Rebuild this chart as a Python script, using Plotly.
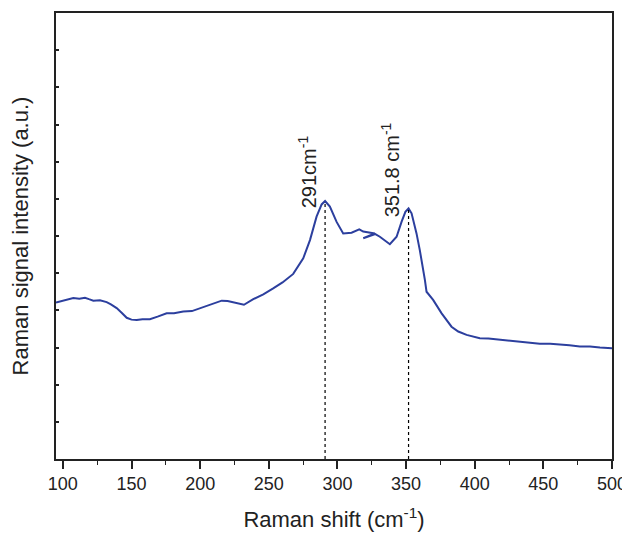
import plotly.graph_objects as go

# Raman spectrum (arbitrary units)
shift = [95, 101, 107.6, 112, 116.1, 119, 122.2, 127, 131.9, 135, 139.2, 143, 146.5, 150, 153.8,
         158, 163.4, 169, 175.6, 181, 187.7, 194, 199.9, 205, 209.5, 215.7, 220, 224.1, 228,
         231.9, 238.7, 246, 253.2, 260, 267.8,
         275.1, 280, 284.8, 288.5, 291, 294.5, 299.4, 304.2, 310.3, 315.9,
         318.8, 327.3, 318.8, 327.6, 330.9, 338.2, 343.1, 346.7, 349.5, 351.8,
         354, 357.6, 360, 363.7, 364.9, 369.7, 375.9, 383.1, 388, 394.1,
         403.7, 410, 418.3, 425, 432.9, 440, 447.4, 455, 462, 469, 476.6, 484, 491.2, 500]
intensity = [4.21, 4.27, 4.33, 4.31, 4.34, 4.30, 4.26, 4.27, 4.22, 4.16, 4.06, 3.93, 3.80, 3.75, 3.74,
             3.76, 3.76, 3.83, 3.92, 3.92, 3.97, 3.98, 4.06, 4.12, 4.19, 4.26, 4.25, 4.22, 4.18,
             4.15, 4.30, 4.43, 4.59, 4.75, 4.98,
             5.40, 5.89, 6.52, 6.85, 6.94, 6.79, 6.38, 6.07, 6.09, 6.18,
             6.12, 6.07, 5.94, 6.05, 5.98, 5.78, 5.98, 6.38, 6.65, 6.74,
             6.61, 6.07, 5.62, 4.82, 4.50, 4.28, 3.92, 3.56, 3.43, 3.34,
             3.25, 3.24, 3.21, 3.19, 3.16, 3.14, 3.10, 3.10, 3.07, 3.06, 3.03, 3.03, 3.00, 2.98]

peak_pos = [291, 351.8]
peak_int = [6.94, 6.74]
peak_labels = ["291cm<sup>-1</sup>", "351.8 cm<sup>-1</sup>"]

x_ticks = [100, 150, 200, 250, 300, 350, 400, 450, 500]

FONT = "Arial"
INK = "#222"

fig = go.Figure()
fig.add_trace(go.Scatter(x=shift, y=intensity, mode="lines",
                         line=dict(color="#2c3f9e", width=2),
                         showlegend=False, hoverinfo="skip"))
for p, v in zip(peak_pos, peak_int):
    fig.add_trace(go.Scatter(x=[p, p], y=[0, v], mode="lines",
                             line=dict(color="black", width=1.2, dash="dot"),
                             showlegend=False, hoverinfo="skip"))

label_y = [6.68, 6.45]
for p, ly, t in zip(peak_pos, label_y, peak_labels):
    fig.add_annotation(x=p, y=ly, text=t, textangle=-90, showarrow=False,
                       xanchor="center", yanchor="bottom", xshift=-18,
                       font=dict(size=20, color=INK, family=FONT))

# page body has an 8px margin, so the figure is offset by 8px
fig.update_layout(
    width=622, height=525,
    margin=dict(l=48, r=18, t=5, b=74),
    paper_bgcolor="white", plot_bgcolor="white",
    font=dict(family=FONT, color=INK, size=18),
)
fig.update_xaxes(range=[95, 500], tickvals=x_ticks, automargin=False,
                 ticks="outside", ticklen=8, tickwidth=1.5, tickcolor=INK,
                 minor=dict(dtick=25, tick0=0, ticks="outside", ticklen=4, tickwidth=1.2, tickcolor=INK),
                 showline=True, linecolor=INK, linewidth=1.5, mirror=True,
                 showgrid=False, zeroline=False,
                 tickfont=dict(size=18, family=FONT),
                 title=dict(text="Raman shift (cm<sup>-1</sup>)", font=dict(size=22, family=FONT), standoff=18))
fig.update_yaxes(range=[0, 12], tickvals=list(range(1, 12)), showticklabels=False,
                 automargin=False,
                 ticks="inside", ticklen=3, tickwidth=1.5, tickcolor=INK,
                 showline=True, linecolor=INK, linewidth=1.5, mirror=True,
                 showgrid=False, zeroline=False,
                 title=dict(text="Raman signal intensity (a.u.)", font=dict(size=22, family=FONT), standoff=22))

fig.write_html("out.html")
